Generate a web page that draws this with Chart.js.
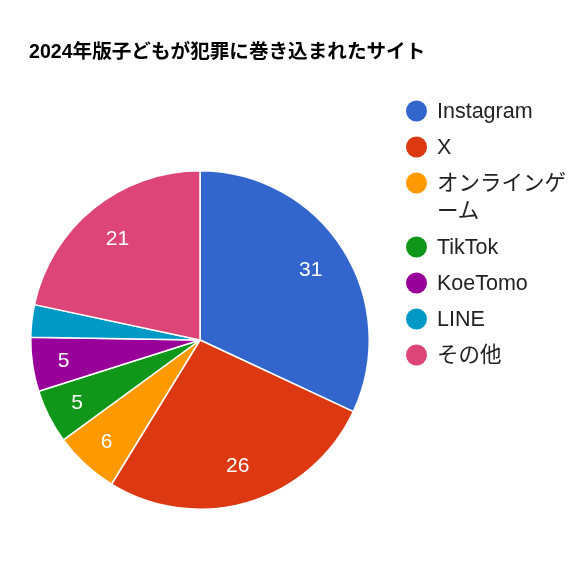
<!DOCTYPE html>
<html>
<head>
<meta charset="utf-8">
<script src="https://cdn.jsdelivr.net/npm/chart.js"></script>
<style>
  html, body { margin: 0; padding: 0; background: #fff; }
  #chart { display: block; }
</style>
</head>
<body>
<canvas id="chart" width="580" height="580"></canvas>
<script>
// data
const title = "2024年版子どもが犯罪に巻き込まれたサイト";
const sites = ["Instagram", "X", "オンラインゲーム", "TikTok", "KoeTomo", "LINE", "その他"];
const counts = [31, 26, 6, 5, 5, 3, 21];
const colors = ["#3366cc", "#dc3912", "#ff9900", "#109618", "#990099", "#0099c6", "#dd4477"];

const FONT = '"Liberation Sans", Arial, "Noto Sans CJK JP", sans-serif';

// split a label into lines that fit maxWidth (char by char, good enough for kana)
function wrapText(ctx, text, maxWidth) {
	let lines = [];
	let cur = "";
	for (const ch of text) {
		if (cur && ctx.measureText(cur + ch).width > maxWidth) {
			lines.push(cur);
			cur = ch;
		} else {
			cur += ch;
		}
	}
	if (cur) lines.push(cur);
	return lines;
}

const decorPlugin = {
	id: "decor",
	afterDraw: function (chart) {
		const ctx = chart.ctx;
		ctx.save();

		// title
		ctx.fillStyle = "#000";
		ctx.font = "bold 19.6px " + FONT;
		ctx.textAlign = "left";
		ctx.textBaseline = "middle";
		ctx.fillText(title, 29, 53);

		// slice labels, narrow slices pushed a bit further out
		const meta = chart.getDatasetMeta(0);
		const total = counts.reduce((a, b) => a + b, 0);
		ctx.fillStyle = "#fff";
		ctx.font = "21px " + FONT;
		ctx.textAlign = "center";
		meta.data.forEach((arc, i) => {
			const frac = counts[i] / total;
			if (frac < 0.04) return;
			const p = arc.getProps(["x", "y", "startAngle", "endAngle", "outerRadius"], true);
			const mid = (p.startAngle + p.endAngle) / 2;
			const r = p.outerRadius * (frac < 0.08 ? 0.815 : 0.775);
			ctx.fillText(String(counts[i]), p.x + Math.cos(mid) * r, p.y + Math.sin(mid) * r + 1);
		});

		// legend
		let y = 111;
		ctx.font = "21.5px " + FONT;
		ctx.textAlign = "left";
		sites.forEach((name, i) => {
			ctx.fillStyle = colors[i];
			ctx.beginPath();
			ctx.arc(416.5, y, 10.5, 0, Math.PI * 2);
			ctx.fill();
			ctx.fillStyle = "#222";
			const lines = wrapText(ctx, name, 136);
			lines.forEach((line, j) => {
				ctx.fillText(line, 437, y + j * 28 + 1);
			});
			y += 36 + (lines.length - 1) * 28;
		});

		ctx.restore();
	}
};

new Chart(document.getElementById("chart"), {
	type: "pie",
	data: {
		labels: sites,
		datasets: [{
			data: counts,
			backgroundColor: colors,
			borderColor: "#fff",
			borderWidth: 1.5,
			hoverOffset: 0
		}]
	},
	options: {
		responsive: false,
		animation: false,
		devicePixelRatio: 1,
		layout: {
			padding: { left: 30, right: 210, top: 170, bottom: 70 }
		},
		plugins: {
			legend: { display: false },
			title: { display: false },
			tooltip: { enabled: false }
		}
	},
	plugins: [decorPlugin]
});
</script>
</body>
</html>
